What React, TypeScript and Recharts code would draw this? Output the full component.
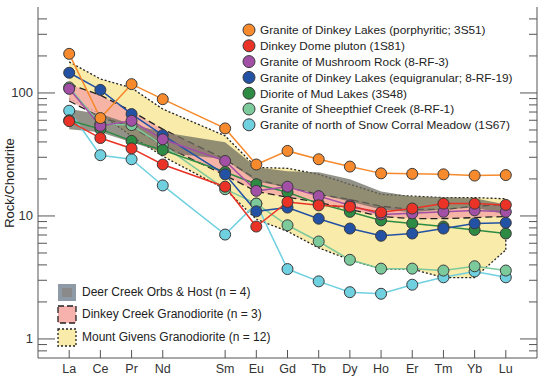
import React from "react";
import {
  ComposedChart,
  Line,
  Area,
  XAxis,
  YAxis,
  ReferenceLine,
} from "recharts";

// REE spider diagram, chondrite normalised
const ELEMENTS = ["La", "Ce", "Pr", "Nd", "Pm", "Sm", "Eu", "Gd", "Tb", "Dy", "Ho", "Er", "Tm", "Yb", "Lu"];

const s3S51 = [208, 62.5, 118, 89, null, 51.5, 26.2, 33.8, 28.9, 25.2, 22.2, 22, 21.8, 21.3, 21.5];
const s1S81 = [59, 43, 35.4, 26.2, null, 17.3, 8.2, 13.0, 12.2, 11.9, 10.7, 11.5, 12.6, 12.6, 12.3];
const s8RF3 = [108, 54, 59.4, 42, null, 28, 16, 17.3, 14.5, 12.2, 10.3, 10.5, 10.8, 11.1, 10.8];
const s3S48 = [60, 50.8, 40.8, 34.4, null, 22.8, 18.1, 15.6, 12.6, 10.8, 9.2, 8.7, 8.2, 7.7, 7.2];
const s8RF19 = [146, 106, 67.4, 45.4, null, 21.8, 10.9, 11.7, 9.5, 7.9, 6.9, 7.2, 7.9, 8.7, 8.8];
const s8RF1 = [111, 55.8, 54.8, 37.6, null, 16.5, 12.6, 8.4, 6.2, 4.4, 3.73, 3.73, 3.6, 3.9, 3.6];
const s1S67 = [71.7, 31.2, 28.9, 17.7, null, 7.06, 12.6, 3.7, 2.94, 2.4, 2.33, 2.76, 3.17, 3.54, 3.17];

// fields (low / high envelopes)
const mgLow = [90, 67.4, 44.6, 30.6, null, 16.5, 9.4, 7.5, 5.5, 4.4, 3.7, 3.7, 3.15, 3.15, 5.3];
const mgHigh = [179, 130, 110, 74, null, 44.8, 24.8, 24.4, 21.8, 18.1, 15, 14.5, 14.1, 14.1, 13.8];
const dcLow = [86, 63.7, 52.8, 37.6, null, 21.4, 15.8, 14.2, 12.9, 11.3, 9.9, 9.5, 9.5, 9.7, 9.9];
const dcHigh = [118, 96, 71, 50.8, null, 28.9, 19.9, 17.1, 15, 13.6, 12, 11.3, 11.3, 12, 12.4];
const deLow = [50.8, 48, 39.8, 33, null, 28.9, 19.1, 17.1, 15, 13.1, 11.3, 10.7, 11.3, 11.7, 10.3];
const deHigh = [74, 67.4, 55.8, 48, null, 39.8, 24.9, 23.1, 22.7, 19.9, 15.8, 14.4, 14.2, 13.9, 12.4];

const Y_TICKS = [0.8, 0.9, 1, 2, 3, 4, 5, 6, 7, 8, 9, 10, 20, 30, 40, 50, 60, 70, 80, 90, 100, 200, 300, 400];
const Y_LABELS = [1, 10, 100];

const SERIES = [
  { key: "s1S67", data: s1S67, color: "#6fd0e0", name: "Granite of north of Snow Corral Meadow (1S67)" },
  { key: "s8RF1", data: s8RF1, color: "#7cc99b", name: "Granite of Sheepthief Creek (8-RF-1)" },
  { key: "s3S48", data: s3S48, color: "#2e8b44", name: "Diorite of Mud Lakes (3S48)" },
  { key: "s8RF19", data: s8RF19, color: "#2352a5", name: "Granite of Dinkey Lakes (equigranular; 8-RF-19)" },
  { key: "s8RF3", data: s8RF3, color: "#a150a6", name: "Granite of Mushroom Rock (8-RF-3)" },
  { key: "s1S81", data: s1S81, color: "#ea3326", name: "Dinkey Dome pluton (1S81)" },
  { key: "s3S51", data: s3S51, color: "#f68a2c", name: "Granite of Dinkey Lakes (porphyritic; 3S51)" },
];

const rows = ELEMENTS.map((el, i) => {
  const r: any = { x: i + 1, el, mg: [mgLow[i], mgHigh[i]], dc: [dcLow[i], dcHigh[i]], de: [deLow[i], deHigh[i]] };
  SERIES.forEach((s) => (r[s.key] = s.data[i]));
  return r;
}).filter((r) => r.el !== "Pm");

const LAST = ELEMENTS.length - 1;

const FONT = "'Liberation Sans', Arial, sans-serif";
const AXIS = "#555";

const LeftTick = (props: any) => {
  const { x, y, payload } = props;
  const major = Y_LABELS.includes(payload.value);
  return (
    <g>
      <line x1={x} x2={x + (major ? 17 : 9)} y1={y} y2={y} stroke={AXIS} />
      {major && (
        <text x={x - 5} y={y} dy={4.5} textAnchor="end" fontSize={13} fill="#333" fontFamily={FONT}>
          {payload.value}
        </text>
      )}
    </g>
  );
};

const RightTick = (props: any) => {
  const { x, y, payload } = props;
  const major = Y_LABELS.includes(payload.value);
  return <line x1={x} x2={x - (major ? 17 : 8)} y1={y} y2={y} stroke={AXIS} />;
};

const BottomTick = (props: any) => {
  const { x, y, payload } = props;
  return (
    <g>
      <line x1={x} x2={x} y1={y} y2={y - 8} stroke={AXIS} />
      <text x={x} y={y + 15} textAnchor="middle" fontSize={12.5} fill="#333" fontFamily={FONT}>
        {ELEMENTS[payload.value - 1]}
      </text>
    </g>
  );
};

const Overlay = () => {
  const legendOrder = [...SERIES].reverse();
  return (
    <svg width={546} height={379} style={{ position: "absolute", left: 0, top: 0, pointerEvents: "none" }}>
      <text
        transform="translate(14,183) rotate(-90)"
        textAnchor="middle"
        fontSize={13}
        fill="#222"
        fontFamily={FONT}
      >
        Rock/Chondrite
      </text>
      {legendOrder.map((s, i) => (
        <g key={s.key}>
          <circle cx={249} cy={30 + i * 15.8} r={6} fill={s.color} stroke="#3a3a3a" strokeWidth={1} />
          <text x={260} y={30 + i * 15.8 + 4.3} fontSize={11.8} fill="#222" fontFamily={FONT}>
            {s.name}
          </text>
        </g>
      ))}
      <rect x={58} y={284} width={18} height={17} fill="#8e9aa6" />
      <rect x={62} y={288} width={10} height={9} fill="#8a8a8a" />
      <text x={82} y={296} fontSize={12} fill="#222" fontFamily={FONT}>Deer Creek Orbs &amp; Host (n = 4)</text>
      <rect x={58} y={306} width={18} height={17} fill="#f7b2ae" stroke="#222" strokeWidth={1.3} strokeDasharray="6 3" />
      <text x={82} y={318} fontSize={12} fill="#222" fontFamily={FONT}>Dinkey Creek Granodiorite (n = 3)</text>
      <rect x={58} y={329} width={18} height={17} fill="#f9ebaa" stroke="#222" strokeWidth={1.3} strokeDasharray="2 2" />
      <text x={82} y={341} fontSize={12} fill="#222" fontFamily={FONT}>Mount Givens Granodiorite (n = 12)</text>
    </svg>
  );
};

export default function App() {
  return (
    <div style={{ position: "absolute", left: 0, top: 0, width: 546, height: 379, background: "#fff" }}>
      <ComposedChart width={546} height={379} data={rows} margin={{ top: 7, right: 0, bottom: 0, left: 0 }}>
        <XAxis
          dataKey="x"
          type="number"
          domain={[0, 16]}
          ticks={[1, 2, 3, 4, 6, 7, 8, 9, 10, 11, 12, 13, 14, 15]}
          interval={0}
          height={21}
          tickSize={0}
          tickMargin={0}
          tickLine={false}
          tick={<BottomTick />}
          axisLine={{ stroke: AXIS }}
        />
        <XAxis xAxisId="top" orientation="top" type="number" domain={[0, 16]} height={0} tick={false} tickLine={false} axisLine={{ stroke: AXIS }} />
        <YAxis
          type="number"
          scale="log"
          domain={[0.7, 500]}
          allowDataOverflow
          ticks={Y_TICKS}
          interval={0}
          width={38}
          tickSize={0}
          tickMargin={0}
          tickLine={false}
          tick={<LeftTick />}
          axisLine={{ stroke: AXIS }}
        />
        <YAxis
          yAxisId="right"
          orientation="right"
          type="number"
          scale="log"
          domain={[0.7, 500]}
          allowDataOverflow
          ticks={Y_TICKS}
          interval={0}
          width={9}
          tickSize={0}
          tickMargin={0}
          tickLine={false}
          tick={<RightTick />}
          axisLine={{ stroke: AXIS }}
        />
        <Area dataKey="mg" type="linear" fill="#f9ebaa" fillOpacity={1} stroke="#222" strokeWidth={1.3} strokeDasharray="2 2" isAnimationActive={false} connectNulls />
        <ReferenceLine
          segment={[{ x: LAST + 1, y: mgLow[LAST] }, { x: LAST + 1, y: mgHigh[LAST] }]}
          stroke="#222"
          strokeWidth={1.3}
          strokeDasharray="2 2"
        />
        <Area dataKey="dc" type="linear" fill="#f5aaa4" fillOpacity={0.85} stroke="#222" strokeWidth={1.3} strokeDasharray="7 4" isAnimationActive={false} connectNulls />
        <Area dataKey="de" type="linear" fill="#6e6e60" fillOpacity={0.75} stroke="none" isAnimationActive={false} connectNulls />
        {SERIES.map((s) => (
          <Line
            key={s.key}
            dataKey={s.key}
            type="linear"
            stroke={s.color}
            strokeWidth={1.5}
            dot={{ r: 5.5, fill: s.color, stroke: "#3a3a3a", strokeWidth: 1 }}
            connectNulls
            isAnimationActive={false}
          />
        ))}
      </ComposedChart>
      <Overlay />
    </div>
  );
}
